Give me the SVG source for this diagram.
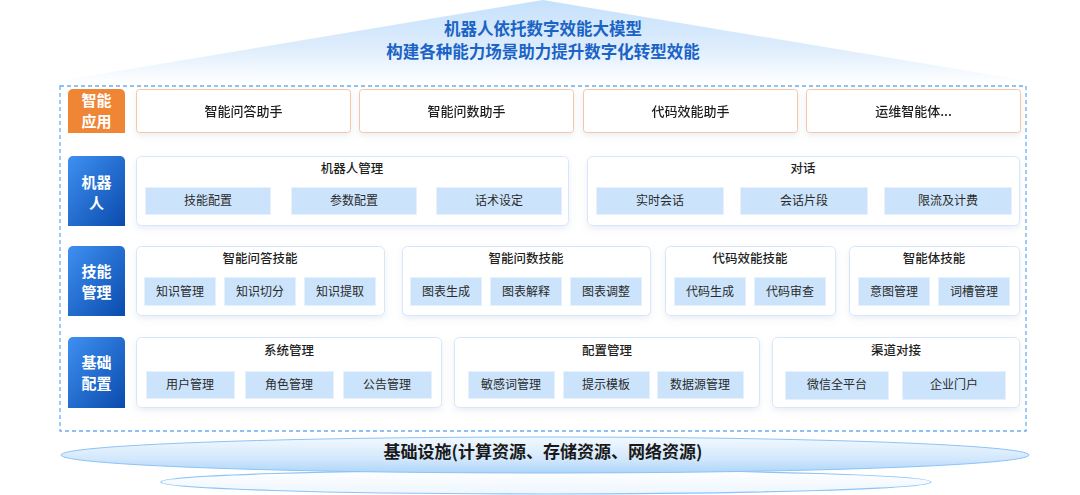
<svg xmlns="http://www.w3.org/2000/svg" width="1080" height="495" viewBox="0 0 1080 495">
<defs>
<linearGradient id="roof" x1="0" y1="0" x2="0" y2="1">
<stop offset="0" stop-color="#c6e1fb"/>
<stop offset="0.55" stop-color="#dcecfc"/>
<stop offset="1" stop-color="#ffffff"/>
</linearGradient>
<linearGradient id="lblBlue" x1="0" y1="0" x2="1" y2="1">
<stop offset="0" stop-color="#3e90f2"/>
<stop offset="1" stop-color="#0a4bac"/>
</linearGradient>
<linearGradient id="base1" x1="0" y1="0" x2="0" y2="1">
<stop offset="0" stop-color="#f3f9ff"/>
<stop offset="0.6" stop-color="#d3e8fc"/>
<stop offset="1" stop-color="#aed5fa"/>
</linearGradient>
<linearGradient id="base2" x1="0" y1="0" x2="0" y2="1">
<stop offset="0" stop-color="#ffffff"/>
<stop offset="1" stop-color="#eef6ff"/>
</linearGradient>
<filter id="sh" x="-10%" y="-20%" width="120%" height="150%">
<feDropShadow dx="0" dy="3" stdDeviation="3" flood-color="#8aa4c4" flood-opacity="0.18"/>
</filter>
<style>
text{font-family:"Noto Sans CJK SC","Noto Sans",sans-serif;text-anchor:middle;}
.title{font-size:16.5px;font-weight:700;fill:#1b63c4;}
.lbl{font-size:15px;font-weight:700;fill:#ffffff;}
.app{fill:#ffffff;stroke:#f7c6a2;stroke-width:1;}
.apptx{font-size:13px;font-weight:500;fill:#1f1f1f;}
.box{fill:#ffffff;stroke:#d6e7fb;stroke-width:1;}
.bt{font-size:12.5px;font-weight:500;fill:#1f1f1f;}
.sub{fill:#cce4fb;stroke:#e6f1fd;stroke-width:1;}
.st{font-size:12px;fill:#2a2a2a;}
</style>
</defs>

<g id="roof-banner">
<polygon points="543,0 40,84 1046,84" fill="url(#roof)"/>
<text class="title" x="543" y="35">机器人依托数字效能大模型</text>
<text class="title" x="543" y="58">构建各种能力场景助力提升数字化转型效能</text>
</g>

<rect id="frame" x="60" y="86" width="966" height="345" fill="none" stroke="#6aaef5" stroke-width="1.3" stroke-dasharray="4 3"/>

<g id="row-app">
<path d="M68,94 a5,5 0 0 1 5,-5 h47 a5,5 0 0 1 5,5 V133 H68 Z" fill="#ef8636"/>
<text class="lbl" x="96.5" y="106">智能</text>
<text class="lbl" x="96.5" y="127">应用</text>
</g>
<g id="app1" filter="url(#sh)"><rect class="app" x="136.5" y="89.5" width="214" height="43" rx="3"/><text class="apptx" x="243.5" y="115.5">智能问答助手</text></g>
<g id="app2" filter="url(#sh)"><rect class="app" x="359.5" y="89.5" width="214" height="43" rx="3"/><text class="apptx" x="466.5" y="115.5">智能问数助手</text></g>
<g id="app3" filter="url(#sh)"><rect class="app" x="583.5" y="89.5" width="214" height="43" rx="3"/><text class="apptx" x="690.5" y="115.5">代码效能助手</text></g>
<g id="app4" filter="url(#sh)"><rect class="app" x="806.5" y="89.5" width="214" height="43" rx="3"/><text class="apptx" x="913.5" y="115.5">运维智能体...</text></g>

<g id="row-robot">
<path d="M68,161 a5,5 0 0 1 5,-5 h47 a5,5 0 0 1 5,5 V226 H68 Z" fill="url(#lblBlue)"/>
<text class="lbl" x="96.5" y="188">机器</text>
<text class="lbl" x="96.5" y="209">人</text>
</g>
<g id="robot-mgmt">
<rect class="box" x="136.5" y="156.5" width="432" height="69" rx="5" filter="url(#sh)"/>
<text class="bt" x="352" y="173">机器人管理</text>
<rect class="sub" x="145.5" y="187.5" width="125" height="27"/><text class="st" x="208" y="205">技能配置</text>
<rect class="sub" x="291.5" y="187.5" width="125" height="27"/><text class="st" x="354" y="205">参数配置</text>
<rect class="sub" x="436.5" y="187.5" width="125" height="27"/><text class="st" x="499" y="205">话术设定</text>
</g>
<g id="dialog">
<rect class="box" x="587.5" y="156.5" width="432" height="69" rx="5" filter="url(#sh)"/>
<text class="bt" x="803" y="173">对话</text>
<rect class="sub" x="596.5" y="187.5" width="127" height="27"/><text class="st" x="660" y="205">实时会话</text>
<rect class="sub" x="740.5" y="187.5" width="127" height="27"/><text class="st" x="804" y="205">会话片段</text>
<rect class="sub" x="884.5" y="187.5" width="127" height="27"/><text class="st" x="948" y="205">限流及计费</text>
</g>

<g id="row-skill">
<path d="M68,251 a5,5 0 0 1 5,-5 h47 a5,5 0 0 1 5,5 V316 H68 Z" fill="url(#lblBlue)"/>
<text class="lbl" x="96.5" y="277">技能</text>
<text class="lbl" x="96.5" y="298">管理</text>
</g>
<g id="qa-skill">
<rect class="box" x="136.5" y="246.5" width="248" height="69" rx="5" filter="url(#sh)"/>
<text class="bt" x="260" y="263">智能问答技能</text>
<rect class="sub" x="144.5" y="277.5" width="71" height="28"/><text class="st" x="180" y="296">知识管理</text>
<rect class="sub" x="224.5" y="277.5" width="71" height="28"/><text class="st" x="260" y="296">知识切分</text>
<rect class="sub" x="304.5" y="277.5" width="71" height="28"/><text class="st" x="340" y="296">知识提取</text>
</g>
<g id="data-skill">
<rect class="box" x="402.5" y="246.5" width="248" height="69" rx="5" filter="url(#sh)"/>
<text class="bt" x="526" y="263">智能问数技能</text>
<rect class="sub" x="410.5" y="277.5" width="71" height="28"/><text class="st" x="446" y="296">图表生成</text>
<rect class="sub" x="490.5" y="277.5" width="71" height="28"/><text class="st" x="526" y="296">图表解释</text>
<rect class="sub" x="570.5" y="277.5" width="71" height="28"/><text class="st" x="606" y="296">图表调整</text>
</g>
<g id="code-skill">
<rect class="box" x="665.5" y="246.5" width="170" height="69" rx="5" filter="url(#sh)"/>
<text class="bt" x="750" y="263">代码效能技能</text>
<rect class="sub" x="674.5" y="277.5" width="71" height="28"/><text class="st" x="710" y="296">代码生成</text>
<rect class="sub" x="754.5" y="277.5" width="71" height="28"/><text class="st" x="790" y="296">代码审查</text>
</g>
<g id="agent-skill">
<rect class="box" x="849.5" y="246.5" width="170" height="69" rx="5" filter="url(#sh)"/>
<text class="bt" x="934" y="263">智能体技能</text>
<rect class="sub" x="858.5" y="277.5" width="71" height="28"/><text class="st" x="894" y="296">意图管理</text>
<rect class="sub" x="938.5" y="277.5" width="71" height="28"/><text class="st" x="974" y="296">词槽管理</text>
</g>

<g id="row-base">
<path d="M68,342 a5,5 0 0 1 5,-5 h47 a5,5 0 0 1 5,5 V408 H68 Z" fill="url(#lblBlue)"/>
<text class="lbl" x="96.5" y="368">基础</text>
<text class="lbl" x="96.5" y="389">配置</text>
</g>
<g id="sys-mgmt">
<rect class="box" x="136.5" y="337.5" width="305" height="70" rx="5" filter="url(#sh)"/>
<text class="bt" x="289" y="355">系统管理</text>
<rect class="sub" x="146.5" y="371.5" width="88" height="27"/><text class="st" x="190" y="389">用户管理</text>
<rect class="sub" x="245.5" y="371.5" width="88" height="27"/><text class="st" x="289" y="389">角色管理</text>
<rect class="sub" x="343.5" y="371.5" width="88" height="27"/><text class="st" x="387" y="389">公告管理</text>
</g>
<g id="cfg-mgmt">
<rect class="box" x="454.5" y="337.5" width="305" height="70" rx="5" filter="url(#sh)"/>
<text class="bt" x="607" y="355">配置管理</text>
<rect class="sub" x="468.5" y="371.5" width="86" height="27"/><text class="st" x="511" y="389">敏感词管理</text>
<rect class="sub" x="563.5" y="371.5" width="86" height="27"/><text class="st" x="606" y="389">提示模板</text>
<rect class="sub" x="657.5" y="371.5" width="86" height="27"/><text class="st" x="700" y="389">数据源管理</text>
</g>
<g id="channel">
<rect class="box" x="772.5" y="337.5" width="247" height="70" rx="5" filter="url(#sh)"/>
<text class="bt" x="896" y="355">渠道对接</text>
<rect class="sub" x="785.5" y="371.5" width="103" height="28"/><text class="st" x="837" y="389">微信全平台</text>
<rect class="sub" x="902.5" y="371.5" width="103" height="28"/><text class="st" x="954" y="389">企业门户</text>
</g>

<g id="infra">
<ellipse cx="546" cy="482" rx="385" ry="12" fill="url(#base2)" stroke="#8cc4f7" stroke-width="1.2"/>
<ellipse cx="545" cy="455" rx="484" ry="18" fill="url(#base1)" stroke="#8cc4f7" stroke-width="1"/>
<text x="543" y="458" style="font-size:17px;font-weight:700;fill:#1a1a1a;">基础设施(计算资源、存储资源、网络资源)</text>
</g>
</svg>
